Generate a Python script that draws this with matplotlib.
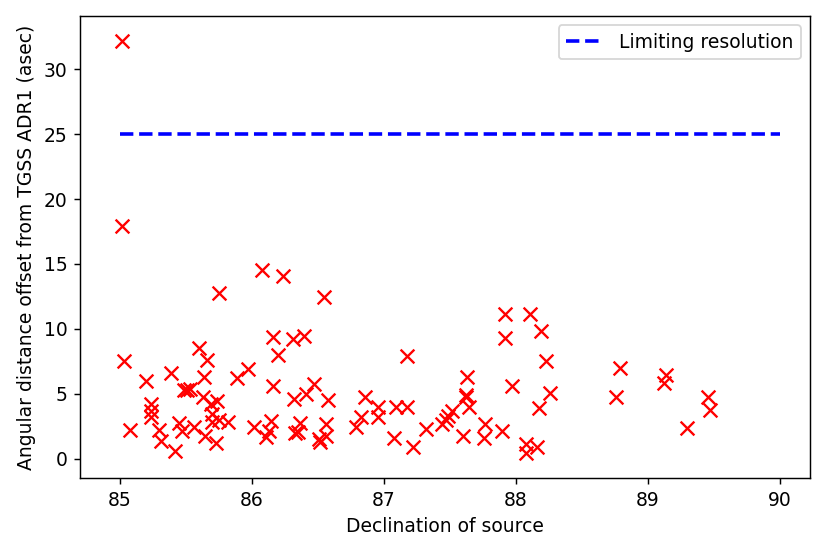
import matplotlib

matplotlib.use("Agg")
import matplotlib.pyplot as plt  # noqa: E402

# declination (deg) and offset from TGSS ADR1 (arcsec)
dec = [
    85.02, 85.02, 85.03, 85.08, 85.20, 85.24, 85.24, 85.24, 85.30, 85.31,
    85.39, 85.42, 85.45, 85.47, 85.49, 85.51, 85.53, 85.56, 85.60, 85.63,
    85.64, 85.65, 85.66, 85.69, 85.70, 85.70, 85.73, 85.74, 85.75, 85.75,
    85.82, 85.89, 85.97, 86.02, 86.08, 86.11, 86.13, 86.15, 86.16, 86.16,
    86.20, 86.24, 86.31, 86.32, 86.33, 86.35, 86.37, 86.40, 86.41, 86.47,
    86.51, 86.52, 86.55, 86.56, 86.56, 86.58, 86.79, 86.83, 86.86, 86.96,
    86.96, 87.08, 87.09, 87.18, 87.18, 87.22, 87.32, 87.44, 87.47, 87.49,
    87.52, 87.60, 87.62, 87.62, 87.63, 87.65, 87.76, 87.77, 87.90, 87.92,
    87.92, 87.97, 88.08, 88.08, 88.11, 88.16, 88.18, 88.19, 88.23, 88.26,
    88.76, 88.79, 89.12, 89.14, 89.30, 89.46, 89.47,
]
offset = [
    32.15, 17.90, 7.55, 2.20, 6.00, 4.21, 3.70, 3.18, 2.21, 1.39,
    6.58, 0.62, 2.72, 2.16, 5.30, 5.25, 5.37, 2.41, 8.53, 4.78,
    6.32, 1.77, 7.63, 4.21, 3.44, 2.80, 1.18, 4.42, 2.98, 12.75,
    2.80, 6.20, 6.91, 2.41, 14.57, 1.64, 2.16, 2.88, 9.38, 5.57,
    8.02, 14.10, 9.23, 4.60, 1.95, 2.05, 2.75, 9.48, 4.99, 5.76,
    1.52, 1.26, 12.49, 2.67, 1.77, 4.55, 2.41, 3.19, 4.73, 3.96,
    3.19, 1.60, 3.96, 3.96, 7.89, 0.87, 2.29, 2.67, 2.98, 3.30,
    3.70, 1.77, 4.93, 4.78, 6.32, 4.00, 1.60, 2.67, 2.16, 11.15,
    9.28, 5.63, 1.13, 0.41, 11.15, 0.87, 3.90, 9.82, 7.50, 5.07,
    4.78, 6.96, 5.84, 6.48, 2.34, 4.73, 3.75,
]

limit_dec = [85.0, 90.0]
limit_res = [25, 25]

plt.rcParams["font.size"] = 10.4

fig = plt.figure(figsize=(830 / 130, 554 / 130), dpi=130)
ax = fig.add_axes([0.0964, 0.137, 0.8796, 0.834])
ax.scatter(dec, offset, marker="x", color="red", s=58, linewidths=1.3)
ax.plot(limit_dec, limit_res, "b--", linewidth=2, label="Limiting resolution")
ax.set_xlim(84.7, 90.23)
ax.set_ylim(-1.5, 34.1)
ax.set_xlabel("Declination of source")
ax.set_ylabel("Angular distance offset from TGSS ADR1 (asec)")
ax.legend(loc="upper right")
fig.savefig("out.png", dpi=130)
